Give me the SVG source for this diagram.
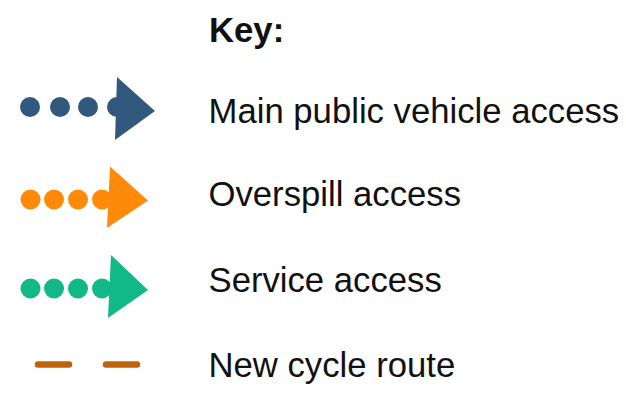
<svg xmlns="http://www.w3.org/2000/svg" width="626" height="397" viewBox="0 0 626 397">
  <style>
    .label { font-family: "Liberation Sans", Arial, sans-serif; font-size: 34.7px; fill: #111; }
    .title { font-weight: bold; }
    .main { fill: #33587e; }
    .overspill { fill: #ff8a0a; }
    .service { fill: #10b987; }
    .cycle { stroke: #c0620a; stroke-width: 6.5; stroke-linecap: round; fill: none; }
  </style>
  <rect width="626" height="397" fill="#ffffff"/>

  <g id="key-title">
    <text class="label title" x="209" y="42">Key:</text>
  </g>

  <!-- Main public vehicle access: dotted line with arrowhead -->
  <g id="key-main">
    <g class="main">
      <circle cx="30" cy="107" r="10"/>
      <circle cx="60" cy="107" r="10"/>
      <circle cx="88" cy="107" r="10"/>
      <circle cx="117" cy="107" r="10"/>
      <polygon points="117,77 155,111 115,140"/>
    </g>
    <text class="label" x="208.5" y="123.3">Main public vehicle access</text>
  </g>

  <!-- Overspill access -->
  <g id="key-overspill">
    <g class="overspill">
      <circle cx="30.5" cy="199.5" r="10"/>
      <circle cx="54" cy="199.5" r="10"/>
      <circle cx="78" cy="199.5" r="10"/>
      <circle cx="102" cy="199.5" r="10"/>
      <polygon points="110,166.5 148,200.5 107,228"/>
    </g>
    <text class="label" x="208.5" y="206">Overspill access</text>
  </g>

  <!-- Service access -->
  <g id="key-service">
    <g class="service">
      <circle cx="30.5" cy="288.5" r="10"/>
      <circle cx="54" cy="288.5" r="10"/>
      <circle cx="78" cy="288.5" r="10"/>
      <circle cx="102" cy="288.5" r="10"/>
      <polygon points="111,255 148,290 108,318"/>
    </g>
    <text class="label" x="208.5" y="292.3">Service access</text>
  </g>

  <!-- New cycle route: dashed line -->
  <g id="key-cycle">
    <line class="cycle" x1="38" y1="364.5" x2="69" y2="364.5"/>
    <line class="cycle" x1="106" y1="364.5" x2="137" y2="364.5"/>
    <text class="label" x="208.5" y="376.7">New cycle route</text>
  </g>
</svg>
